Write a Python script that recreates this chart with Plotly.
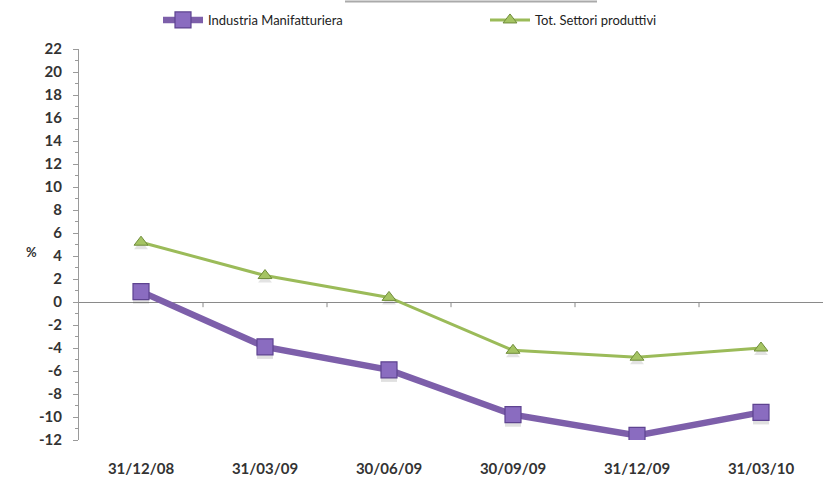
import plotly.graph_objects as go

# Quarter-end dates and year-on-year changes (%)
dates = ["31/12/08", "31/03/09", "30/06/09", "30/09/09", "31/12/09", "31/03/10"]
industria = [0.9, -3.9, -5.9, -9.8, -11.6, -9.6]
totale = [5.2, 2.3, 0.4, -4.2, -4.8, -4.0]

y_ticks = list(range(-12, 23, 2))

xpos = list(range(len(dates)))
FONT = "Lato, Open Sans, DejaVu Sans, sans-serif"
tick_font = dict(family=FONT, size=15, color="#333333")
legend_font = dict(family=FONT, size=13, color="#222222")

fig = go.Figure()

# soft drop shadows under the markers
fig.add_trace(go.Scatter(
    x=xpos, y=[v - 0.35 for v in industria], mode="markers",
    marker=dict(symbol="square", size=16, color="rgba(60,60,60,0.16)", line=dict(width=0)),
    showlegend=False, hoverinfo="skip"))
fig.add_trace(go.Scatter(
    x=xpos, y=[v - 0.35 for v in totale], mode="markers",
    marker=dict(symbol="triangle-up", size=12, color="rgba(60,60,60,0.14)", line=dict(width=0)),
    showlegend=False, hoverinfo="skip"))

fig.add_trace(go.Scatter(
    x=xpos, y=industria, mode="lines+markers", name="Industria Manifatturiera",
    line=dict(color="#7D5FAA", width=6.5),
    marker=dict(symbol="square", size=16, color="#8A6CC0", line=dict(color="#5E4390", width=1.2)),
    legend="legend",
))
fig.add_trace(go.Scatter(
    x=xpos, y=totale, mode="lines+markers", name="Tot. Settori produttivi",
    line=dict(color="#9BBB59", width=3),
    marker=dict(symbol="triangle-up", size=12, color="#A5C463", line=dict(color="#6F8C3A", width=1)),
    legend="legend2",
))

# small tick marks on the zero line between categories
shapes = []
for b in range(len(dates) - 1):
    shapes.append(dict(type="line", xref="x", yref="y", x0=b + 0.5, x1=b + 0.5,
                       y0=0, y1=-0.45, line=dict(color="#8a8a8a", width=1)))
# bottom edge of the title box at the top of the page
shapes.append(dict(type="line", xref="paper", yref="paper",
                   x0=(345 - 79) / 744, x1=(597 - 79) / 744,
                   y0=1 + 47.5 / 391, y1=1 + 47.5 / 391,
                   line=dict(color="#aaaaaa", width=2)))

legend_common = dict(orientation="h", xref="container", yref="container",
                     xanchor="left", yanchor="middle", y=1 - 20 / 483,
                     font=legend_font, bgcolor="rgba(0,0,0,0)", itemwidth=40)

fig.update_layout(
    width=823, height=483,
    margin=dict(l=79, r=0, t=49, b=43),
    paper_bgcolor="white", plot_bgcolor="white",
    shapes=shapes,
    legend=dict(x=158 / 823, **legend_common),
    legend2=dict(x=485 / 823, **legend_common),
    annotations=[dict(text="<b>%</b>", xref="paper", yref="paper", x=(31 - 79) / 744,
                      y=(440 - 252) / 391, showarrow=False, xanchor="center", yanchor="middle",
                      font=dict(family=FONT, size=13, color="#333333"))],
    xaxis=dict(range=[-0.5, len(dates) - 0.5], tickvals=xpos,
               ticktext=["<b>%s</b>" % d for d in dates],
               showgrid=False, zeroline=False, showline=False, ticks="",
               ticklabelstandoff=18, tickfont=tick_font, fixedrange=True),
    yaxis=dict(range=[-12, 22], tickvals=y_ticks,
               ticktext=["<b>%d</b>" % v for v in y_ticks],
               showgrid=False, zeroline=True, zerolinecolor="#8a8a8a", zerolinewidth=1,
               showline=True, linecolor="#9a9a9a", linewidth=1,
               ticks="outside", ticklen=5, tickcolor="#9a9a9a",
               minor=dict(dtick=1, ticks="outside", ticklen=3, tickcolor="#9a9a9a"),
               ticklabelstandoff=8, tickfont=tick_font),
)

fig.write_html("out.html")
